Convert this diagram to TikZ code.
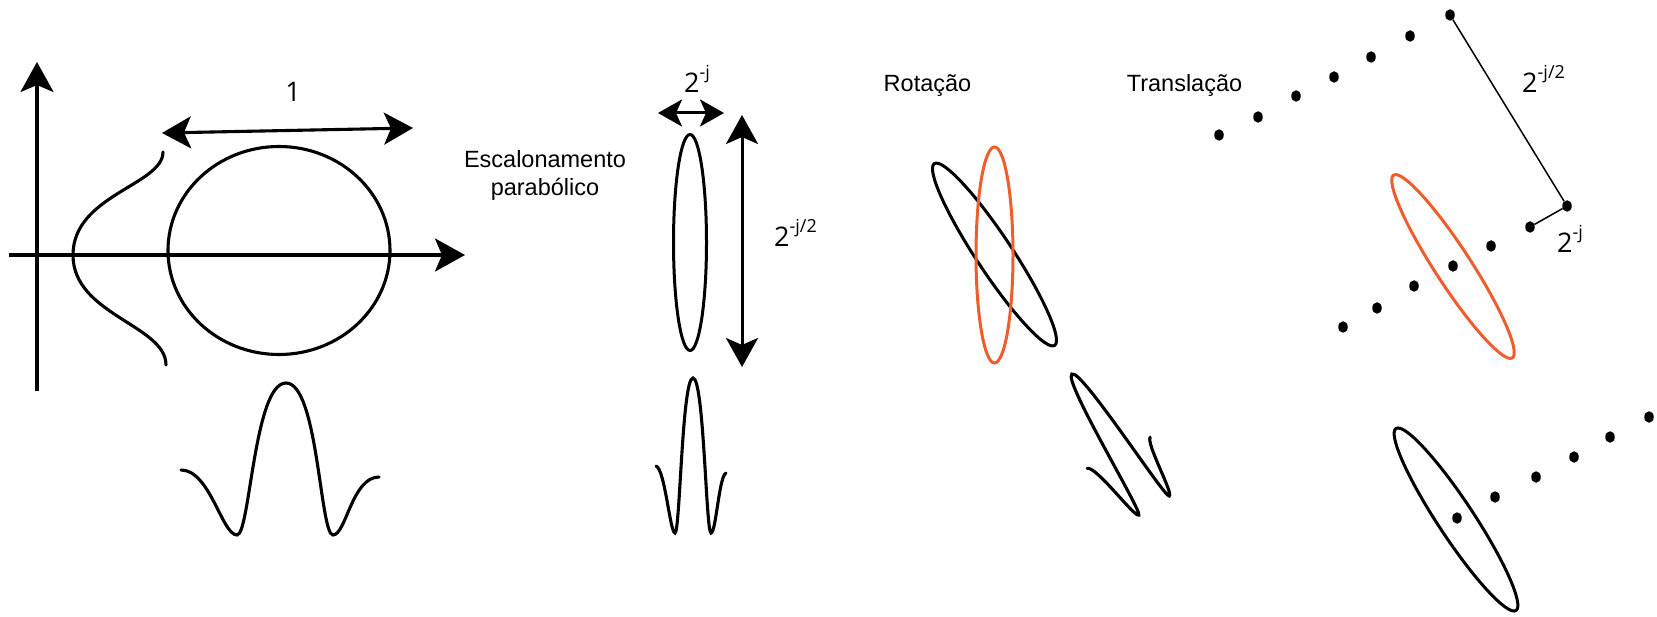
\documentclass[tikz,border=0pt]{standalone}
\usepackage{fontspec}
\setmainfont{Liberation Sans}
\newfontfamily\lblfont{Open Sans}
\usetikzlibrary{arrows.meta,shapes.geometric}
\definecolor{orng}{RGB}{238,93,43}
\newcommand{\supx}[1]{\raisebox{0.52em}{\fontsize{18}{18}\selectfont #1}}
\begin{document}
\begin{tikzpicture}[x=1pt,y=-1pt,
  axisline/.style={line width=3.4pt},
  curve/.style={line width=3.1pt, line cap=round},
  ell/.style={line width=3pt},
  tipone/.style={-{Stealth[length=30pt,width=33pt,inset=7pt]}},
  tiptwo/.style={{Stealth[length=29pt,width=32pt,inset=7pt]}-{Stealth[length=29pt,width=32pt,inset=7pt]}},
  tipsmall/.style={{Stealth[length=24pt,width=27pt,inset=6pt]}-{Stealth[length=24pt,width=27pt,inset=6pt]}},
  dot/.style={ellipse, fill=black, inner sep=0pt, minimum width=9.5pt, minimum height=11.5pt},
  txt/.style={font=\fontsize{23.5}{28}\selectfont, anchor=base, inner sep=0pt},
  lbl/.style={font=\lblfont\fontsize{27}{30}\selectfont, anchor=base west, inner sep=0pt},
  thin/.style={line width=1.5pt}
]
\useasboundingbox (0,0) rectangle (1657,617);

% ---------- left panel: axes, circle, gaussian, wavelet
\coordinate (yb) at (37,391);
\coordinate (yt) at (37,62);
\coordinate (xl) at (9,255);
\coordinate (xr) at (465,255);
\draw[axisline,tipone] (yb) -- (yt);
\draw[axisline,tipone] (xl) -- (xr);
\draw[ell,line width=3.1pt] (279,250.5) ellipse [x radius=111pt, y radius=104pt];
\coordinate (ul) at (162,133);
\coordinate (ur) at (413,128);
\draw[line width=3.1pt,tiptwo] (ul) -- (ur);
\node[lbl,anchor=base] (one) at (293,102) {1};
\draw[curve] (163,152) .. controls (163,185) and (73,195) .. (73,255)
  .. controls (73,315) and (166,325) .. (166,365);
\draw[curve] (181,470) .. controls (210,470) and (222,535) .. (237,535)
  .. controls (250,535) and (254,383) .. (286,383)
  .. controls (318,383) and (320,535) .. (333,535)
  .. controls (346,535) and (352,477) .. (379,477);

% ---------- parabolic scaling
\node[txt] (esc) at (545,168) {Escalonamento};
\node[txt] (par) at (545,196) {parabólico};
\draw[ell] (690,242.5) ellipse [x radius=16.5pt, y radius=108pt];
\coordinate (sl) at (658,113);
\coordinate (sr) at (724,113);
\draw[line width=3pt,tipsmall] (sl) -- (sr);
\node[lbl] (lj) at (684,93) {2\supx{-j}};
\coordinate (vt) at (742,115);
\coordinate (vb) at (742,367);
\draw[line width=3pt,tiptwo] (vt) -- (vb);
\node[lbl] (lj2) at (774,247) {2\supx{-j/2}};
\draw[curve] (656,466) .. controls (665,469) and (670,533) .. (675,533)
  .. controls (680,533) and (682,378) .. (693,378)
  .. controls (704,378) and (706,533) .. (711,533)
  .. controls (716,533) and (719,476) .. (726,473);

% ---------- rotation
\node[txt] (rot) at (927.5,92) {Rotação};
\draw[ell,rotate around={33.5:(994.5,254.5)}] (994.5,254.5) ellipse [x radius=18pt, y radius=109pt];
\draw[ell,orng] (994.5,255) ellipse [x radius=18.5pt, y radius=108pt];
\begin{scope}[shift={(461,-27.5)}, rotate around={32:(693,533)}]
\draw[curve] (656,466) .. controls (665,469) and (670,533) .. (675,533)
  .. controls (680,533) and (682,378) .. (693,378)
  .. controls (704,378) and (706,533) .. (711,533)
  .. controls (716,533) and (719,476) .. (726,473);
\end{scope}

% ---------- translation
\node[txt] (tra) at (1184.5,92) {Translação};
\draw[ell,orng,rotate around={33:(1453,266.5)}] (1453,266.5) ellipse [x radius=18pt, y radius=109pt];
\draw[ell,rotate around={33.4:(1456,519.5)}] (1456,519.5) ellipse [x radius=18pt, y radius=109pt];

\node[dot] (t1) at (1219,135) {};
\node[dot] (t2) at (1258,117) {};
\node[dot] (t3) at (1296,96) {};
\node[dot] (t4) at (1334,77) {};
\node[dot] (t5) at (1371,57) {};
\node[dot] (t6) at (1410,36) {};
\node[dot] (t7) at (1450,15) {};

\node[dot] (m1) at (1343,327) {};
\node[dot] (m2) at (1377,308) {};
\node[dot] (m3) at (1414,286) {};
\node[dot] (m4) at (1453,266) {};
\node[dot] (m5) at (1491,246) {};
\node[dot] (m6) at (1530,227) {};
\node[dot] (m7) at (1567,206) {};

\node[dot] (b1) at (1457,518) {};
\node[dot] (b2) at (1495,497) {};
\node[dot] (b3) at (1536,477) {};
\node[dot] (b4) at (1574,457) {};
\node[dot] (b5) at (1610,437) {};
\node[dot] (b6) at (1649,417) {};

\draw[thin] (t7) -- (m7);
\draw[thin] (m7) -- (m6);
\node[lbl] (tj2) at (1522,93) {2\supx{-j/2}};
\node[lbl] (tj) at (1557,253) {2\supx{-j}};
\end{tikzpicture}
\end{document}
